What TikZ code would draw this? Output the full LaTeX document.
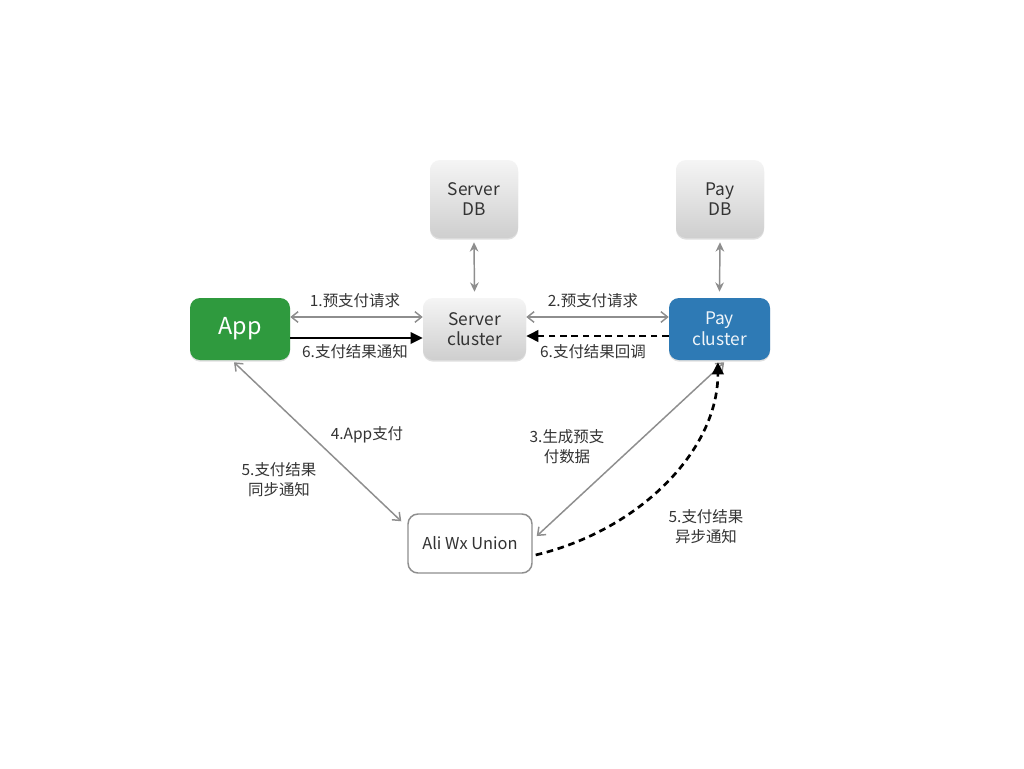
\documentclass[tikz,border=0pt]{standalone}
\usepackage{fontspec}
\setmainfont{Noto Sans CJK SC}
\usetikzlibrary{arrows.meta,shadows}
\definecolor{appgreen}{HTML}{2F9A3E}
\definecolor{payblue}{HTML}{2E7AB5}
\definecolor{linegray}{HTML}{8E8E8E}
\definecolor{txt}{HTML}{333333}
\begin{document}
\begin{tikzpicture}[x=0.75pt,y=-0.75pt,
  box/.style={rounded corners=7.5pt, align=center, inner sep=0pt},
  graybox/.style={box, top color=gray!8, bottom color=gray!38, draw=none,
    drop shadow={shadow xshift=0pt, shadow yshift=-1.2pt, opacity=0.25},
    text=txt, font=\fontsize{13}{15.5}\selectfont},
  lbl/.style={text=txt, font=\fontsize{11.6}{15}\selectfont, align=center, inner sep=1pt},
  gline/.style={draw=linegray, line width=1.1pt, {Straight Barb[length=5pt,width=8pt]}-{Straight Barb[length=5pt,width=8pt]}},
  vline/.style={draw=linegray, line width=1.1pt, {Stealth[length=7pt,width=6.5pt]}-{Stealth[length=7pt,width=6.5pt]}},
  bline/.style={draw=black, line width=1.7pt, -{Triangle[length=9pt,width=8.5pt]}},
  dline/.style={bline, line width=2pt, dash pattern=on 5pt off 3.5pt}
]
\useasboundingbox (0,0) rectangle (1024,768);
\fill[white] (0,0) rectangle (1024,768);

\node[box, fill=appgreen, text=white, minimum width=75pt, minimum height=46.5pt,
  font=\fontsize{17.5}{20}\selectfont,
  drop shadow={shadow xshift=0pt, shadow yshift=-1.2pt, opacity=0.25}] (app) at (240,329) {App};
\node[graybox, minimum width=66pt, minimum height=58.5pt] (sdb) at (474,199) {Server\\DB};
\node[graybox, minimum width=77.25pt, minimum height=46.5pt] (srv) at (474.5,329) {Server\\cluster};
\node[graybox, minimum width=66pt, minimum height=58.5pt] (pdb) at (720,199) {Pay\\DB};
\node[box, fill=payblue, text=white!92!payblue, minimum width=75.75pt, minimum height=46.5pt,
  font=\fontsize{13}{15.5}\selectfont,
  drop shadow={shadow xshift=0pt, shadow yshift=-1.2pt, opacity=0.25}] (pay) at (719.5,329) {Pay\\cluster};
\node[box, draw=linegray, line width=1.1pt, fill=white, minimum width=93pt, minimum height=44.25pt,
  text=txt, font=\fontsize{12.3}{15}\selectfont] (ali) at (470,543.5) {Ali Wx Union};

% DB links
\draw[vline] ([yshift=-3pt]sdb.south) -- ([yshift=4.5pt]srv.north);
\draw[vline] ([yshift=-3pt]pdb.south) -- ([yshift=4.5pt]pay.north);

% horizontal links
\draw[gline] ([yshift=9pt]app.east) -- ([yshift=9pt]srv.west);
\draw[bline] ([yshift=-6.75pt]app.east) -- ([yshift=-6.75pt]srv.west);
\draw[gline] ([yshift=9pt]srv.east) -- ([yshift=9pt]pay.west);
\draw[dline] ([yshift=-5.25pt]pay.west) -- ([yshift=-5.25pt]srv.west -| srv.east);

% diagonal links
\draw[gline] ([xshift=-4.5pt,yshift=-1.5pt]app.south) -- ([xshift=-4.5pt,yshift=-6pt]ali.north west);
\draw[gline] ([xshift=3.5pt,yshift=-1.5pt]pay.south) -- ([xshift=3pt,yshift=5.6pt]ali.east);
\draw[dline] ([xshift=2.25pt,yshift=-8.6pt]ali.east) .. controls (640,530) and (718,450) .. ([xshift=-1.2pt,yshift=-1.5pt]pay.south);

% labels
\node[lbl] (l1) at (355,301) {1.预支付请求};
\node[lbl] (l6a) at (355,352) {6.支付结果通知};
\node[lbl] (l2) at (593,301) {2.预支付请求};
\node[lbl] (l6b) at (593,352) {6.支付结果回调};
\node[lbl] (l4) at (367,435) {4.App支付};
\node[lbl] (l5a) at (279,480) {5.支付结果\\同步通知};
\node[lbl] (l3) at (567,447) {3.生成预支\\付数据};
\node[lbl] (l5b) at (706,527) {5.支付结果\\异步通知};
\end{tikzpicture}
\end{document}
